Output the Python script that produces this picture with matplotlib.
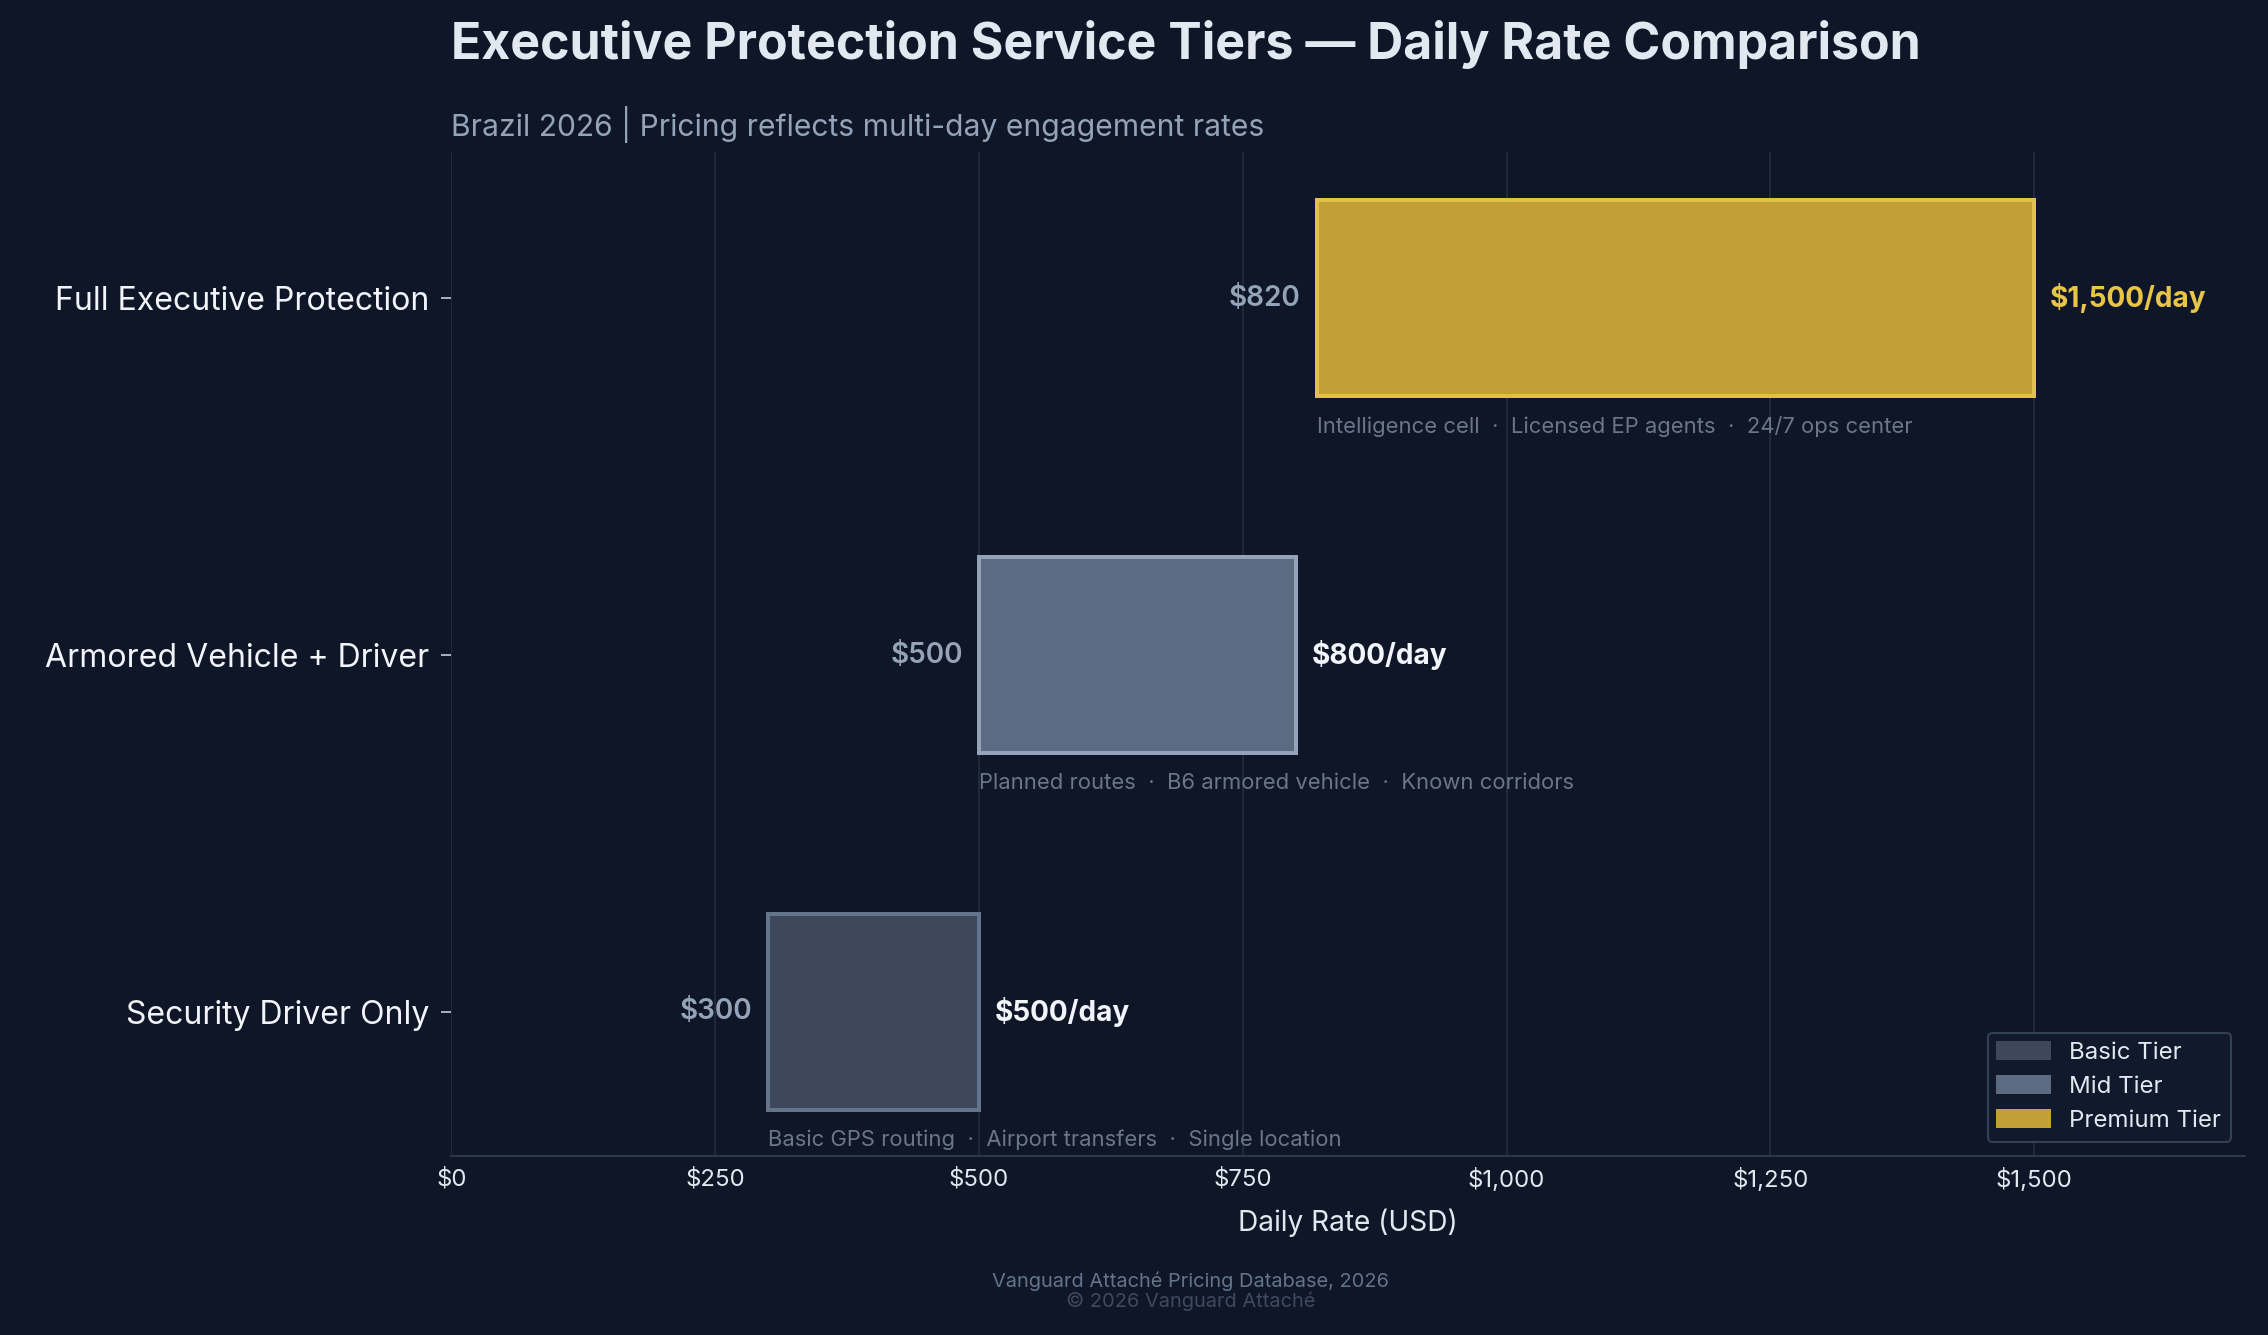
import matplotlib
matplotlib.use("Agg")
import matplotlib.pyplot as plt
from matplotlib.patches import Patch

plt.rcParams['font.family'] = ['Inter', 'DejaVu Sans']

categories = ["Security Driver Only", "Armored Vehicle + Driver", "Full Executive Protection"]
low = [300, 500, 820]
high = [500, 800, 1500]
features = ["Basic GPS routing  ·  Airport transfers  ·  Single location",
            "Planned routes  ·  B6 armored vehicle  ·  Known corridors",
            "Intelligence cell  ·  Licensed EP agents  ·  24/7 ops center"]
tiers = ["Basic Tier", "Mid Tier", "Premium Tier"]
xticks = [0, 250, 500, 750, 1000, 1250, 1500]

bg = "#0e1628"
fills = ["#3e485d", "#5c6a82", "#c3a035"]
edges = ["#64748b", "#94a3b8", "#e2c14b"]
value_colors = ["#f1f5f9", "#f1f5f9", "#e8c547"]

fig = plt.figure(figsize=(2268/144, 1335/144), dpi=144, facecolor=bg)
ax = fig.add_axes([0.199, 0.134, 0.791, 0.752], facecolor=bg)

for i in range(3):
    ax.barh(i, high[i]-low[i], left=low[i], height=0.55, color=fills[i],
            edgecolor=edges[i], linewidth=2, zorder=3)
    ax.text(low[i]-15, i, f"${low[i]:,}", ha="right", va="center",
            color="#94a3b8", fontsize=14, fontweight="semibold")
    ax.text(high[i]+15, i, f"${high[i]:,}/day", ha="left", va="center",
            color=value_colors[i], fontsize=14, fontweight="bold")
    ax.text(low[i], i-0.33, features[i], ha="left", va="top",
            color="#6b7789", fontsize=11)

ax.set_xlim(0, 1700)
ax.set_ylim(-0.405, 2.41)
ax.set_yticks(range(3))
ax.set_yticklabels(categories, fontsize=16, color="#f1f5f9")
ax.set_xticks(xticks)
ax.set_xticklabels([f"${v:,}" for v in xticks], fontsize=12, color="#e2e8f0")
ax.tick_params(axis="y", length=5, color="#cbd5e1", pad=6)
ax.tick_params(axis="x", length=0, pad=6)
ax.grid(axis="x", color="#1e293b", linewidth=1, zorder=0)
for s in ["top", "right", "left"]:
    ax.spines[s].set_visible(False)
ax.spines["bottom"].set_color("#334155")
ax.set_xlabel("Daily Rate (USD)", fontsize=14, color="#e2e8f0", labelpad=8)

handles = [Patch(facecolor=fills[i], edgecolor=fills[i], label=tiers[i]) for i in range(3)]
leg = ax.legend(handles=handles, loc="lower right", fontsize=12, facecolor="#111a2c",
                edgecolor="#334155", labelcolor="#e2e8f0", framealpha=1,
                handlelength=2.2, borderaxespad=0.6)

fig.text(0.199, 0.967, "Executive Protection Service Tiers — Daily Rate Comparison",
         fontsize=25, fontweight="bold", color="#e2e8f0", va="center")
fig.text(0.199, 0.907, "Brazil 2026 | Pricing reflects multi-day engagement rates",
         fontsize=15, color="#94a3b8", va="center")
fig.text(0.525, 0.040, "Vanguard Attaché Pricing Database, 2026", fontsize=10,
         color="#64748b", ha="center", va="center")
fig.text(0.525, 0.025, "© 2026 Vanguard Attaché", fontsize=10,
         color="#3f4a5e", ha="center", va="center")

fig.savefig("out.png", dpi=144, facecolor=bg)
